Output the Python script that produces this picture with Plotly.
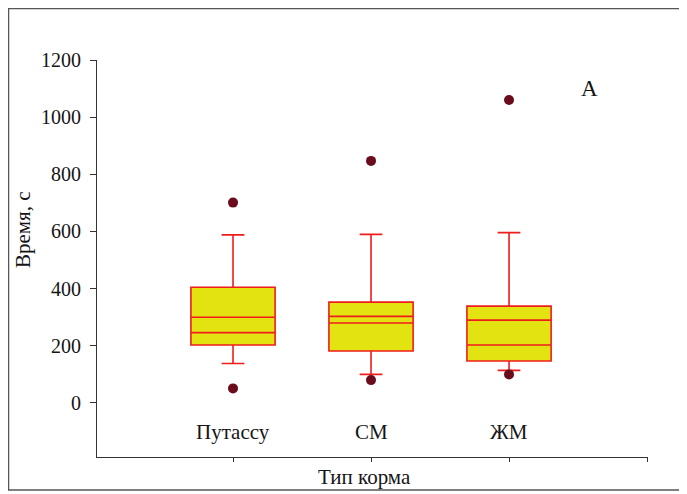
import plotly.graph_objects as go

categories = ["Путассу", "СМ", "ЖМ"]
positions = [0, 1, 2]
q1 = [203, 182, 147]
median = [246, 280, 203]
mean = [300, 303, 290]
q3 = [405, 353, 339]
lower_whisker = [138, 100, 114]
upper_whisker = [588, 590, 596]
outliers = [[701, 51], [847, 80], [1060, 100]]
y_ticks = [0, 200, 400, 600, 800, 1000, 1200]

RED = "#f01c1c"
FILL = "#e3e312"
DOT = "#6a0c1c"
INK = "#151515"
FONT = "Liberation Serif, Times New Roman, serif"
BOX_W = 0.61

fig = go.Figure()

fig.add_trace(go.Box(
    x=positions, q1=q1, median=median, q3=q3,
    lowerfence=lower_whisker, upperfence=upper_whisker,
    boxpoints=False, width=BOX_W, whiskerwidth=0.27,
    fillcolor=FILL, line=dict(color=RED, width=1.6),
    showlegend=False, hoverinfo="skip",
))

# mean lines (solid, across the box)
mx, my = [], []
for p, m in zip(positions, mean):
    mx += [p - BOX_W / 2, p + BOX_W / 2, None]
    my += [m, m, None]
fig.add_trace(go.Scatter(x=mx, y=my, mode="lines",
                         line=dict(color=RED, width=1.6),
                         showlegend=False, hoverinfo="skip"))

# outliers
ox, oy = [], []
for p, outs in zip(positions, outliers):
    for v in outs:
        ox.append(p)
        oy.append(v)
fig.add_trace(go.Scatter(x=ox, y=oy, mode="markers",
                         marker=dict(color=DOT, size=10),
                         showlegend=False, hoverinfo="skip"))

def txt(size):
    return dict(family=FONT, size=size, color=INK)

annotations = []
for p, c in zip(positions, categories):
    annotations.append(dict(x=p, xref="x", y=0.063, yref="paper", text=c,
                            xanchor="center", yanchor="middle",
                            showarrow=False, font=txt(21)))
annotations.append(dict(x=-0.134, y=0.572, xref="paper", yref="paper", text="Время, с",
                        xanchor="center", yanchor="middle",
                        textangle=-90, showarrow=False, font=txt(21)))
annotations.append(dict(x=0.4846, y=-0.0504, xref="paper", yref="paper", text="Тип корма",
                        xanchor="center", yanchor="middle",
                        showarrow=False, font=txt(21)))
annotations.append(dict(x=0.893, y=0.929, xref="paper", yref="paper", text="А",
                        xanchor="center", yanchor="middle",
                        showarrow=False, font=txt(23)))

fig.update_layout(
    width=679, height=486,
    margin=dict(l=89, r=39, t=52, b=37),
    paper_bgcolor="white", plot_bgcolor="white",
    font=txt(20),
    annotations=annotations,
    shapes=[dict(type="rect", xref="paper", yref="paper",
                 x0=-0.1606, x1=1.069, y0=-0.0831, y1=1.1297,
                 line=dict(color="#555555", width=1.5))],
    xaxis=dict(range=[-0.9855, 3.007], tickvals=[0, 1, 2, 3], ticktext=["", "", "", ""],
               ticks="outside", ticklen=4, tickcolor="#333", showline=True,
               linecolor="#333", linewidth=1.2, showgrid=False, zeroline=False),
    yaxis=dict(range=[-189, 1200], tickvals=y_ticks, ticks="outside", ticklen=6,
               tickcolor="#333", showline=True, linecolor="#333", linewidth=1.2,
               showgrid=False, zeroline=False, ticklabelstandoff=5,
               tickfont=txt(20)),
)

fig.write_html("out.html")
